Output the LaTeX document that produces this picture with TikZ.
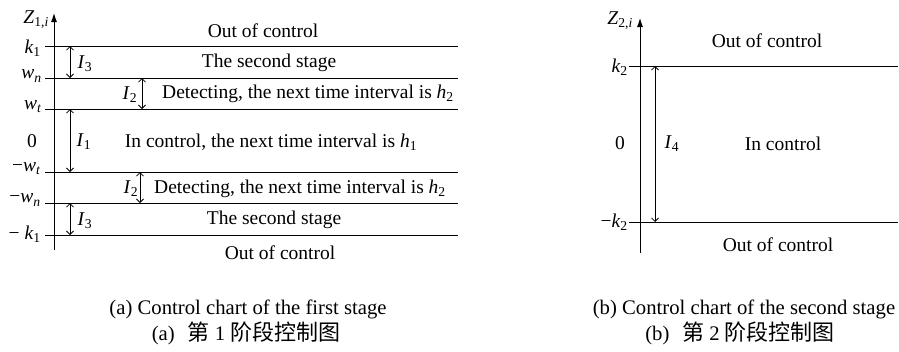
\documentclass[tikz,border=0pt]{standalone}
\usepackage{fontspec}
\setmainfont{Liberation Serif}
\newfontfamily\cjk{Noto Sans CJK SC}
\usetikzlibrary{arrows.meta}
% italic symbol with an upright or italic subscript
\newcommand\vsub[2]{\textit{#1}\textsubscript{#2}}
% Chinese sub-caption: label, stage number
\newcommand\zhcap[2]{#1\hspace{13pt}{\cjk\fontsize{22}{24}\selectfont 第}\hspace{5pt}#2\hspace{5pt}{\cjk\fontsize{22}{24}\selectfont 阶段控制图}}
\begin{document}
\begin{tikzpicture}[x=1pt,y=-1pt,
  lim/.style={line width=0.9pt},
  dimarrow/.style={line width=0.8pt,
    {Straight Barb[length=3.5pt,width=7pt]}-{Straight Barb[length=3.5pt,width=7pt]}},
  axis/.style={line width=0.9pt,-{Latex[length=9pt,width=6pt]}},
  lbl/.style={font=\fontsize{19.5}{23}\selectfont,inner sep=0pt},
  tick/.style={lbl,anchor=east},
  captext/.style={font=\fontsize{20.7}{24}\selectfont,inner sep=0pt}]
\useasboundingbox (0,0) rectangle (899,351);

% ---------- (a) first stage chart ----------
\coordinate (ya0) at (54,250);
\coordinate (ya1) at (54,13);
\draw[axis] (ya0) -- (ya1);
\node[tick] (za) at (49,20) {\vsub{Z}{1,\textit{i}}};

\foreach \n/\y in {k/46,wn/78,wt/109,mwt/172,mwn/203,mk/235}{
  \coordinate (L\n) at (45,\y);
  \coordinate (R\n) at (458,\y);
  \draw[lim] (L\n) -- (R\n);
}
\node[tick] (tk)   at (41,48)  {\vsub{k}{1}};
\node[tick] (twn)  at (42,76)  {\vsub{w}{\textit{n}}};
\node[tick] (twt)  at (42,107) {\vsub{w}{\textit{t}}};
\node[tick] (t0)   at (37,141) {0};
\node[tick] (tmwt) at (41,169) {−\vsub{w}{\textit{t}}};
\node[tick] (tmwn) at (41,200) {−\vsub{w}{\textit{n}}};
\node[tick] (tmk)  at (41,234) {− \vsub{k}{1}};

% interval arrows
\coordinate (i3a) at (70,46);  \coordinate (i3b) at (70,78);
\coordinate (i2a) at (142,78); \coordinate (i2b) at (142,109);
\coordinate (i1a) at (70,109); \coordinate (i1b) at (70,172);
\coordinate (j2a) at (140,172);\coordinate (j2b) at (140,203);
\coordinate (j3a) at (70,203); \coordinate (j3b) at (70,235);
\draw[dimarrow] (i3a) -- (i3b);
\draw[dimarrow] (i2a) -- (i2b);
\draw[dimarrow] (i1a) -- (i1b);
\draw[dimarrow] (j2a) -- (j2b);
\draw[dimarrow] (j3a) -- (j3b);
\node[lbl] (li3) at (85,64)  {\vsub{I}{3}};
\node[lbl] (li2) at (130,95) {\vsub{I}{2}};
\node[lbl] (li1) at (84,142) {\vsub{I}{1}};
\node[lbl] (lj2) at (131,189){\vsub{I}{2}};
\node[lbl] (lj3) at (85,221) {\vsub{I}{3}};

% zone texts
\node[lbl] (oa1) at (263,31)  {Out of control};
\node[lbl] (sa1) at (269,63)  {The second stage};
\node[lbl] (da1) at (308,94)  {Detecting, the next time interval is \vsub{h}{2}};
\node[lbl] (ia)  at (271,142) {In control, the next time interval is \vsub{h}{1}};
\node[lbl] (da2) at (300,189) {Detecting, the next time interval is \vsub{h}{2}};
\node[lbl] (sa2) at (274,220) {The second stage};
\node[lbl] (oa2) at (280,253) {Out of control};

% ---------- (b) second stage chart ----------
\coordinate (yb0) at (640,253);
\coordinate (yb1) at (640,18);
\draw[axis] (yb0) -- (yb1);
\node[tick] (zb) at (633,21) {\vsub{Z}{2,\textit{i}}};
\coordinate (Lk2) at (629,66);  \coordinate (Rk2) at (898,66);
\coordinate (Lmk2) at (629,222);\coordinate (Rmk2) at (898,222);
\draw[lim] (Lk2) -- (Rk2);
\draw[lim] (Lmk2) -- (Rmk2);
\node[tick] (tk2)  at (628,67)  {\vsub{k}{2}};
\node[tick] (t02)  at (625,143) {0};
\node[tick] (tmk2) at (628,222) {−\vsub{k}{2}};
\coordinate (i4a) at (655,66); \coordinate (i4b) at (655,222);
\draw[dimarrow] (i4a) -- (i4b);
\node[lbl] (li4) at (672,144) {\vsub{I}{4}};
\node[lbl] (ob1) at (767,41)  {Out of control};
\node[lbl] (ib)  at (783,144) {In control};
\node[lbl] (ob2) at (778,245) {Out of control};

% ---------- captions ----------
\node[captext] (ca1) at (248,309) {(a) Control chart of the first stage};
\node[captext] (ca2) at (246,333) {\zhcap{(a)}{1}};
\node[captext] (cb1) at (744,309) {(b) Control chart of the second stage};
\node[captext] (cb2) at (740,333) {\zhcap{(b)}{2}};
\end{tikzpicture}
\end{document}
